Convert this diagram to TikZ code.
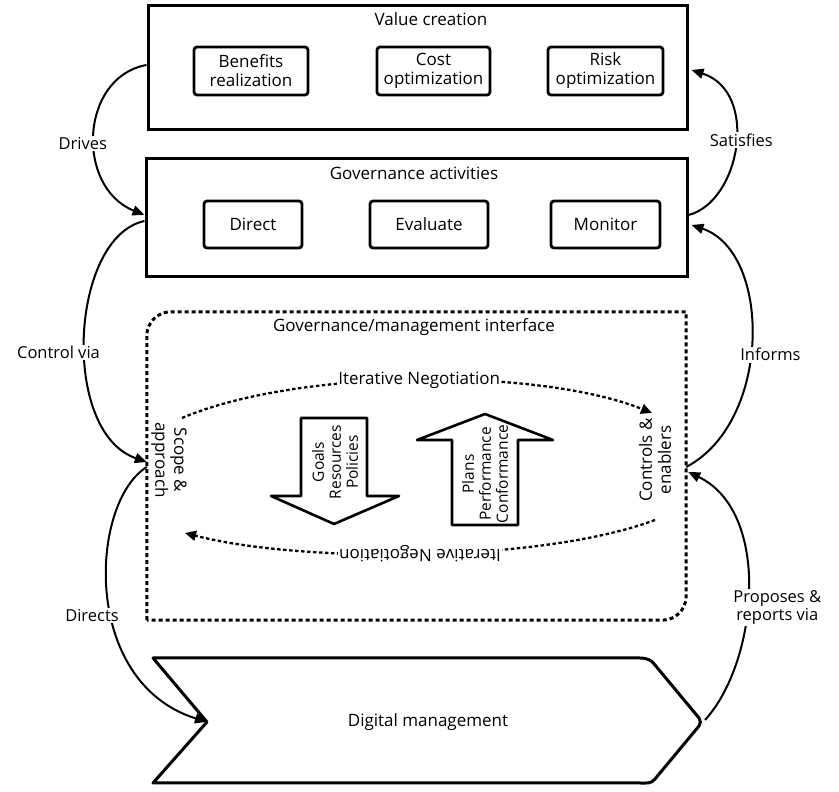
\documentclass[tikz,border=0pt]{standalone}
\usepackage{fontspec}
\setmainfont{Open Sans}
\usetikzlibrary{arrows.meta,calc}
\begin{document}
\begin{tikzpicture}[x=1pt,y=1pt,
  bigbox/.style={draw,line width=3pt,inner sep=0pt},
  smallbox/.style={draw,line width=2.8pt,rounded corners=3pt,inner sep=0pt,align=center,font=\fontsize{17}{19}\selectfont},
  lbl/.style={font=\fontsize{17}{19}\selectfont,align=center,inner sep=1pt},
  conn/.style={line width=2pt,-{Triangle[length=12pt,width=10pt]}},
  clabel/.style={fill=white,inner sep=1.5pt,font=\fontsize{16.5}{18}\selectfont,align=center},
  neg/.style={line width=2.3pt,dash pattern=on 3.5pt off 2.5pt,-{Triangle[length=11pt,width=10pt]}},
  iflabel/.style={fill=white,inner sep=1pt,font=\fontsize{17}{19}\selectfont},
  bigarrow/.style={draw,line width=2.6pt,line join=round},
  arrtext/.style={font=\fontsize{15.5}{17}\selectfont,align=center,rotate=90,inner sep=0pt},
  ifbox/.style={line width=3pt,dash pattern=on 4pt off 3pt},
]
\useasboundingbox (0,0) rectangle (839,792);

% Value creation
\node[bigbox,minimum width=539pt,minimum height=124pt] (vc) at (417.5,724) {};
\node[lbl] (vct) at (431,773) {Value creation};
\node[smallbox,minimum width=114pt,minimum height=48pt] (ben) at (251,721) {Benefits\\realization};
\node[smallbox,minimum width=113pt,minimum height=48pt] (cost) at (433.5,721) {Cost\\optimization};
\node[smallbox,minimum width=115pt,minimum height=48pt] (risk) at (605.5,721) {Risk\\optimization};

% Governance activities
\node[bigbox,minimum width=541pt,minimum height=118pt] (gov) at (416.5,574) {};
\node[lbl] (govt) at (414,619) {Governance activities};
\node[smallbox,minimum width=98pt,minimum height=47pt] (dir) at (253,567.5) {Direct};
\node[smallbox,minimum width=118pt,minimum height=47pt] (eva) at (429,567.5) {Evaluate};
\node[smallbox,minimum width=109pt,minimum height=47pt] (mon) at (605.5,567.5) {Monitor};

% Interface
\node[minimum width=539pt,minimum height=308pt,inner sep=0pt] (iface) at (416.5,326) {};
\draw[ifbox] (iface.south west) -- ([yshift=-24pt]iface.north west) to[out=90,in=180] ([xshift=24pt]iface.north west) -- (iface.north east) -- ([yshift=24pt]iface.south east) to[out=-90,in=0] ([xshift=-24pt]iface.south east) -- cycle;
\node[lbl] (ifacet) at (414,465) {Governance/management interface};

\node[lbl,rotate=-90] (scope) at (169,332) {Scope \&\\approach};
\node[lbl,rotate=90] (ctrl) at (655,332) {Controls \&\\enablers};

\coordinate (n1s) at (182,374);
\coordinate (n1e) at (652,379);
\coordinate (n2s) at (655,272);
\coordinate (n2e) at (185,259);
\draw[neg] (n1s) .. controls (300,424) and (540,424) .. node[iflabel,pos=0.5] (neg1) {Iterative Negotiation} (n1e);
\draw[neg] (n2s) .. controls (540,229) and (300,229) .. node[iflabel,pos=0.5,rotate=180] (neg2) {Iterative Negotiation} (n2e);

% big arrows
\draw[bigarrow] (301,374) -- (367,374) -- (367,296) -- (399,296) -- (334,268) -- (271,296) -- (301,296) -- cycle;
\node[arrtext] (goals) at (335,330) {Goals\\Resources\\Policies};
\draw[bigarrow] (452,267) -- (518,267) -- (518,352) -- (553,352) -- (485,378) -- (417,352) -- (452,352) -- cycle;
\node[arrtext] (plans) at (485,318) {Plans\\Performance\\Conformance};

% Digital management
\coordinate (dmnotch) at (207,70);
\coordinate (dmtip) at (701,70);
\draw[line width=3pt,line join=round] (153,134) -- (640,134) to[out=0,in=125] (655,127) -- ([xshift=-2pt,yshift=4pt]dmtip) to[out=-55,in=55] ([xshift=-2pt,yshift=-4pt]dmtip) -- (655,13) to[out=-125,in=0] (640,9) -- (153,9) -- (dmnotch) -- cycle;
\node[lbl] (dm) at (428,70) {Digital management};

% left connectors
\draw[conn] ([yshift=3pt]vc.west) .. controls (80,715) and (75,605) .. node[clabel,pos=0.55,xshift=-12pt] (drives) {Drives} ([yshift=3pt]gov.west);
\draw[conn] ([yshift=-3pt]gov.west) .. controls (70,555) and (60,360) .. node[clabel,pos=0.55,xshift=-27pt] (ctrlvia) {Control via} ([yshift=4pt]iface.west);
\draw[conn] ([yshift=-1pt]iface.west) .. controls (90,290) and (80,110) .. node[clabel,pos=0.57,xshift=-20pt] (directs) {Directs} (dmnotch);

% right connectors
\draw[conn] ([yshift=3pt]gov.east) .. controls (740,590) and (760,700) .. node[clabel,pos=0.53,xshift=6pt] (satis) {Satisfies} ([xshift=3pt,yshift=-2pt]vc.east);
\draw[conn] ([yshift=-1pt]iface.east) .. controls (772,370) and (772,540) .. node[clabel,pos=0.45,xshift=20pt] (informs) {Informs} ([xshift=3pt,yshift=-7pt]gov.east);
\draw[conn] ([xshift=4pt,yshift=2pt]dmtip) .. controls (758,130) and (772,280) .. node[clabel,pos=0.44,xshift=30pt] (proposes) {Proposes \&\\reports via} ([xshift=2pt,yshift=-6pt]iface.east);
\end{tikzpicture}
\end{document}
